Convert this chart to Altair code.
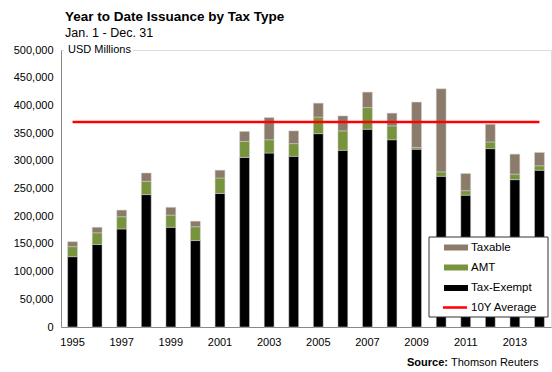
import altair as alt
import pandas as pd

years = [str(y) for y in range(1995, 2015)]
tax_exempt = [127000, 149000, 177000, 239000, 180000, 156000, 241000, 306000, 314000, 308000,
              349000, 319000, 357000, 338000, 321000, 272000, 238000, 322000, 266000, 283000]
amt = [18000, 21000, 22000, 24000, 22000, 25000, 28000, 29000, 24000, 23000,
       30000, 35000, 39000, 25000, 3000, 8000, 8000, 12000, 10000, 8000]
taxable = [9000, 10000, 12000, 15000, 14000, 10000, 14000, 18000, 40000, 23000,
           25000, 27000, 28000, 23000, 82000, 150000, 31000, 32000, 36000, 24000]
avg_10y = 370000

series_names = ["Tax-Exempt", "AMT", "Taxable"]
series_colors = ["#000000", "#77933C", "#8C7B6B"]
legend_names = ["Taxable", "AMT", "Tax-Exempt", "10Y Average"]
legend_colors = ["#8C7B6B", "#77933C", "#000000", "#FF0000"]
tick_years = [str(y) for y in range(1995, 2015, 2)]
y_ticks = list(range(0, 500001, 50000))

FONT = "Liberation Sans"

rows = []
for i, yr in enumerate(years):
    for order, (name, vals) in enumerate(zip(series_names, [tax_exempt, amt, taxable])):
        rows.append({"Year": yr, "Type": name, "Value": vals[i], "order": order})
df = pd.DataFrame(rows)

avg_df = pd.DataFrame({"Year": [years[0], years[-1]], "Value": [avg_10y, avg_10y]})

xscale = alt.Scale(domain=years, paddingInner=0.6, paddingOuter=0.27)
yscale = alt.Scale(domain=[0, 500000], nice=False)

xaxis = alt.Axis(values=tick_years, labelAngle=0, ticks=False, title=None,
                 labelFont=FONT, labelFontSize=11, labelColor="#000000",
                 domainColor="#888888", labelPadding=9)
yaxis = alt.Axis(values=y_ticks, format=",d", ticks=False, grid=False, title=None,
                 labelFont=FONT, labelFontSize=11, labelColor="#000000",
                 domainColor="#888888", labelPadding=8)

bars = alt.Chart(df).mark_bar(stroke="#d0d0d0", strokeWidth=0.5).encode(
    x=alt.X("Year:N", scale=xscale, sort=years, axis=xaxis),
    y=alt.Y("Value:Q", stack="zero", scale=yscale, axis=yaxis),
    color=alt.Color("Type:N", scale=alt.Scale(domain=series_names, range=series_colors), legend=None),
    order=alt.Order("order:Q", sort="ascending"),
)

avg_line = alt.Chart(avg_df).mark_line(color="#FF0000", strokeWidth=2.5).encode(
    x=alt.X("Year:N", scale=xscale, sort=years, axis=xaxis),
    y=alt.Y("Value:Q", scale=yscale, axis=yaxis),
)

one = pd.DataFrame({"a": [0]})

usd_bg = alt.Chart(one).mark_rect(fill="#FFFFFF").encode(
    x=alt.value(3), x2=alt.value(72), y=alt.value(-4), y2=alt.value(5))
usd_text = alt.Chart(one).mark_text(text="USD Millions", font=FONT, fontSize=11, align="left",
                                    baseline="middle", color="#000000").encode(
    x=alt.value(7), y=alt.value(0))

src_bold = alt.Chart(one).mark_text(text="Source:", font=FONT, fontSize=11, fontWeight="bold",
                                    align="left", baseline="middle", color="#000000").encode(
    x=alt.value(346), y=alt.value(313))
src_text = alt.Chart(one).mark_text(text="Thomson Reuters", font=FONT, fontSize=11,
                                    align="left", baseline="middle", color="#000000").encode(
    x=alt.value(390), y=alt.value(313))

legend_box = alt.Chart(one).mark_rect(fill="#FFFFFF", stroke="#333333", strokeWidth=1).encode(
    x=alt.value(368), x2=alt.value(487), y=alt.value(187), y2=alt.value(267))

row_y = [197.5, 217.5, 238, 257.5]
legend_layers = []
for name, col, ry in zip(legend_names, legend_colors, row_y):
    if name == "10Y Average":
        sw = alt.Chart(one).mark_rule(color=col, strokeWidth=2.5).encode(
            x=alt.value(382), x2=alt.value(406), y=alt.value(ry))
    else:
        sw = alt.Chart(one).mark_rect(fill=col).encode(
            x=alt.value(383), x2=alt.value(407), y=alt.value(ry - 3), y2=alt.value(ry + 3))
    tx = alt.Chart(one).mark_text(text=name, font=FONT, fontSize=11.5, align="left",
                                  baseline="middle", color="#000000").encode(
        x=alt.value(410), y=alt.value(ry))
    legend_layers += [sw, tx]

chart = alt.layer(bars, avg_line, usd_bg, usd_text, src_bold, src_text, legend_box, *legend_layers).properties(
    width=490, height=277,
    autosize=alt.AutoSizeParams(type="none"),
    padding={"left": 61, "top": 50, "right": 1, "bottom": 45},
    title=alt.TitleParams(text="Year to Date Issuance by Tax Type", subtitle="Jan. 1 - Dec. 31",
                          anchor="start", frame="group", font=FONT, fontSize=13.5, fontWeight="bold",
                          color="#000000", subtitleFont=FONT, subtitleFontSize=12.5,
                          subtitleColor="#000000", subtitlePadding=3, dx=4, offset=5),
).configure_view(stroke="#555555", strokeWidth=1).configure(background="#FFFFFF")

chart.save("out.html", embed_options={"renderer": "svg", "actions": False})
